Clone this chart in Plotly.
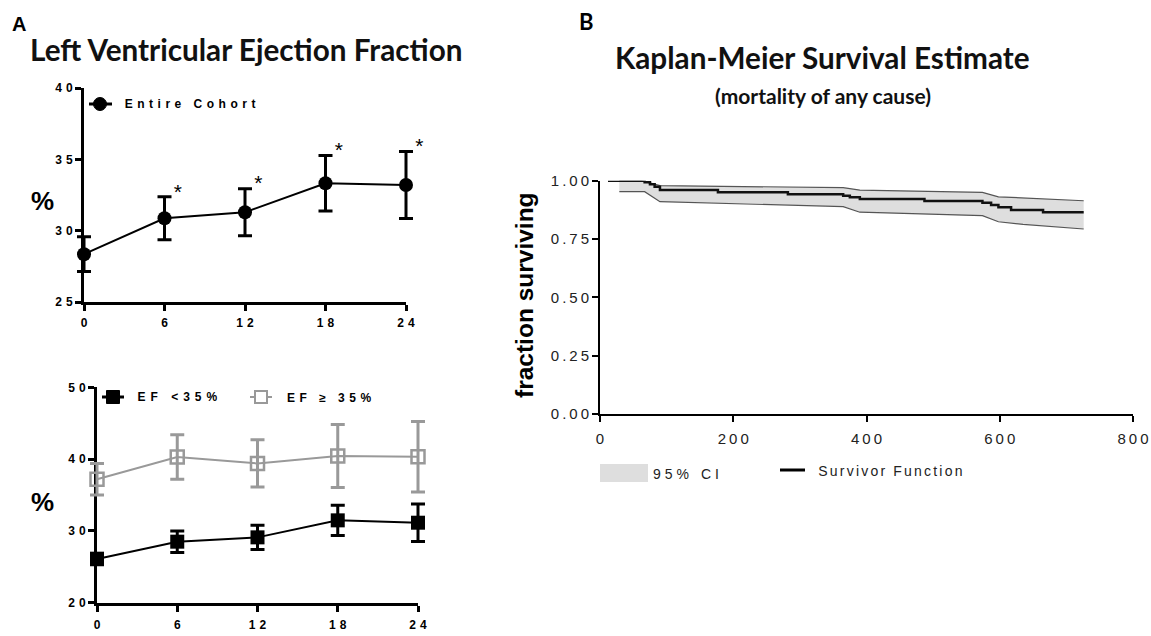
import json
import plotly.graph_objects as go

# ---------------- data ----------------
months = [0, 6, 12, 18, 24]
month_labels = ["0", "6", "12", "18", "24"]

cohort_mean = [28.35, 30.87, 31.29, 33.32, 33.20]
cohort_err = [1.22, 1.50, 1.65, 1.95, 2.35]
significant = [False, True, True, True, True]

low_ef_mean = [26.1, 28.5, 29.1, 31.47, 31.14]
low_ef_err = [0.8, 1.5, 1.7, 2.1, 2.6]

high_ef_mean = [37.2, 40.3, 39.4, 40.43, 40.33]
high_ef_err = [2.2, 3.1, 3.3, 4.4, 4.9]

top_yticks = [25, 30, 35, 40]
bottom_yticks = [20, 30, 40, 50]

km_days = [12, 67, 75, 82, 90, 177, 282, 365, 375, 390, 487, 574, 587, 598, 617, 665, 726]
km_surv = [1.0, 0.993, 0.985, 0.974, 0.960, 0.950, 0.942, 0.936, 0.929, 0.922, 0.913,
           0.906, 0.896, 0.886, 0.874, 0.865, 0.865]

ci_upper_days = [29, 62, 90, 255, 365, 390, 510, 574, 598, 726]
ci_upper = [1.0, 1.0, 0.979, 0.974, 0.970, 0.960, 0.953, 0.950, 0.931, 0.914]
ci_lower_days = [29, 67, 90, 255, 365, 390, 540, 574, 598, 635, 726]
ci_lower = [0.953, 0.953, 0.910, 0.899, 0.889, 0.865, 0.852, 0.850, 0.824, 0.813, 0.793]

km_xticks = [0, 200, 400, 600, 800]
km_yticks = [0, 0.25, 0.5, 0.75, 1.0]

# ---------------- helpers ----------------
# Figure fills the window exactly (body margin removed below); positions in window pixels.
W, H = 1151, 636
def px(x):
    return x / W
def py(y):
    return 1 - y / H

GRAY = "#999999"
ARIAL = "Liberation Sans, Arial, sans-serif"
LATO = "Lato, Open Sans, sans-serif"
TICKFONT_A = dict(family=ARIAL, size=12, color="black", weight="bold")
TICKFONT_B = dict(family=ARIAL, size=15, color="#222222")

# padded hidden axes for the panel-A traces, so error-bar caps at the ends are not clipped
PAD = 14
def padded(x0, x1, r0, r1):
    per = (x1 - x0) / (r1 - r0)
    d = PAD / per
    return [px(x0 - PAD), px(x1 + PAD)], [r0 - d, r1 + d]

top_dom, top_rng = padded(84, 406, 0, 24)
bot_dom, bot_rng = padded(97, 418, 0, 24)

fig = go.Figure()

# empty traces so that the visible panel-A axes get their own subplots
fig.add_trace(go.Scatter(x=[], y=[], xaxis="x", yaxis="y", hoverinfo="skip"))
fig.add_trace(go.Scatter(x=[], y=[], xaxis="x2", yaxis="y2", hoverinfo="skip"))

# ---------- Panel A top ----------
fig.add_trace(go.Scatter(
    x=months, y=cohort_mean, mode="lines+markers",
    line=dict(color="black", width=2),
    marker=dict(symbol="circle", size=14, color="black"),
    error_y=dict(type="data", array=cohort_err, color="black", thickness=3, width=7),
    cliponaxis=False, xaxis="x4", yaxis="y"))

ast_x = [m + 1.0 for m, s in zip(months, significant) if s]
ast_y = [v + e + 0.25 for v, e, s in zip(cohort_mean, cohort_err, significant) if s]
fig.add_trace(go.Scatter(
    x=ast_x, y=ast_y, mode="text", text=["*"] * len(ast_x),
    textposition="middle center",
    textfont=dict(family=ARIAL, size=21, color="black"),
    cliponaxis=False, xaxis="x4", yaxis="y"))

# ---------- Panel A bottom ----------
fig.add_trace(go.Scatter(
    x=months, y=high_ef_mean, mode="lines+markers",
    line=dict(color=GRAY, width=2),
    marker=dict(symbol="square-open", size=13, color=GRAY, line=dict(width=2.5, color=GRAY)),
    error_y=dict(type="data", array=high_ef_err, color=GRAY, thickness=3, width=7),
    cliponaxis=False, xaxis="x5", yaxis="y2"))
fig.add_trace(go.Scatter(
    x=months, y=low_ef_mean, mode="lines+markers",
    line=dict(color="black", width=2),
    marker=dict(symbol="square", size=14, color="black"),
    error_y=dict(type="data", array=low_ef_err, color="black", thickness=3, width=7),
    cliponaxis=False, xaxis="x5", yaxis="y2"))

# ---------- Panel B ----------
band_x = ci_upper_days + ci_lower_days[::-1]
band_y = ci_upper + ci_lower[::-1]
fig.add_trace(go.Scatter(
    x=band_x, y=band_y, fill="toself", fillcolor="#dedede", mode="none",
    cliponaxis=False, xaxis="x3", yaxis="y3"))
fig.add_trace(go.Scatter(
    x=ci_upper_days, y=ci_upper, mode="lines", line=dict(color="#555555", width=1.2),
    cliponaxis=False, xaxis="x3", yaxis="y3"))
fig.add_trace(go.Scatter(
    x=ci_lower_days, y=ci_lower, mode="lines", line=dict(color="#555555", width=1.2),
    cliponaxis=False, xaxis="x3", yaxis="y3"))
fig.add_trace(go.Scatter(
    x=km_days, y=km_surv, mode="lines", line=dict(color="#111111", width=2.5, shape="hv"),
    cliponaxis=False, xaxis="x3", yaxis="y3"))

axis_a = dict(showline=True, linewidth=3, linecolor="black", ticks="outside",
              ticklen=6, tickwidth=3, tickcolor="black", showgrid=False,
              zeroline=False, tickfont=TICKFONT_A, automargin=False)
axis_b = dict(showline=True, linewidth=2, linecolor="black", ticks="outside",
              ticklen=6, tickwidth=2, tickcolor="black", showgrid=False,
              zeroline=False, tickfont=TICKFONT_B, automargin=False)
hidden = dict(visible=False, showgrid=False, zeroline=False, fixedrange=True, automargin=False)

fig.update_layout(
    width=W, height=H, margin=dict(l=0, r=0, t=0, b=0, pad=0, autoexpand=False),
    paper_bgcolor="white", plot_bgcolor="rgba(0,0,0,0)", showlegend=False,
    xaxis=dict(axis_a, domain=[px(84), px(406)], range=[0, 24], anchor="y",
               tickvals=months, ticktext=month_labels, ticklabelstandoff=2),
    yaxis=dict(axis_a, domain=[py(302), py(88)], range=[25, 40], anchor="x",
               tickvals=top_yticks, ticktext=[str(v) for v in top_yticks]),
    xaxis2=dict(axis_a, domain=[px(97), px(418)], range=[0, 24], anchor="y2",
                tickvals=months, ticktext=month_labels, ticklabelstandoff=3),
    yaxis2=dict(axis_a, domain=[py(602.7), py(387.3)], range=[20, 50], anchor="x2",
                tickvals=bottom_yticks, ticktext=[str(v) for v in bottom_yticks]),
    xaxis3=dict(axis_b, domain=[px(600), px(1133)], range=[0, 800], anchor="y3",
                tickvals=km_xticks, ticktext=[str(v) for v in km_xticks], ticklabelstandoff=4),
    yaxis3=dict(axis_b, domain=[py(414), py(180.7)], range=[0, 1], anchor="x3",
                tickvals=km_yticks, ticktext=["%.2f" % v for v in km_yticks]),
    xaxis4=dict(hidden, domain=top_dom, range=top_rng, anchor="y"),
    xaxis5=dict(hidden, domain=bot_dom, range=bot_rng, anchor="y2"),
)

# ---------- text ----------
TITLE_FONT = dict(family=LATO, size=29.7, color="#111111", weight="bold")
annotations = []
spacing = []
def ann(text, x, y, xanchor="left", font=None, textangle=0, ls=0):
    shift = 0
    if ls and xanchor == "left":
        shift = ls * len(text) / 2.0
    annotations.append(dict(text=text, x=px(x), y=py(y), xref="paper", yref="paper",
                            xanchor=xanchor, yanchor="middle", showarrow=False,
                            textangle=textangle, font=font, xshift=shift))
    spacing.append(ls)

ann("A", 10, 24, font=dict(family=ARIAL, size=20, color="black", weight="bold"))
ann("Left Ventricular Ejection Fraction", 28, 50, font=TITLE_FONT)
ann("%", 42, 201, xanchor="center", font=dict(family=ARIAL, size=26, color="black", weight="bold"))
ann("%", 42, 502, xanchor="center", font=dict(family=ARIAL, size=26, color="black", weight="bold"))
ann("Entire Cohort", 123, 104, font=dict(family=ARIAL, size=12, color="black", weight="bold"), ls=4.5)
ann("EF <35%", 135, 397, font=dict(family=ARIAL, size=12, color="black", weight="bold"), ls=5)
ann("EF \u2265 35%", 285, 398, font=dict(family=ARIAL, size=12, color="black", weight="bold"), ls=4.5)

ann("B", 577, 22, font=dict(family=LATO, size=22, color="black", weight="bold"))
ann("Kaplan-Meier Survival Estimate", 822, 57, xanchor="center", font=TITLE_FONT)
ann("(mortality of any cause)", 823, 95, xanchor="center",
    font=dict(family=LATO, size=21, color="#111111", weight="bold"))
ann("fraction surviving", 525, 295, xanchor="center", textangle=-90,
    font=dict(family=ARIAL, size=24.5, color="black", weight="bold"))
ann("95% CI", 651, 474, font=dict(family=ARIAL, size=14, color="#222222"), ls=4)
ann("Survivor Function", 816, 471, font=dict(family=ARIAL, size=14, color="#222222"), ls=2.2)

fig.update_layout(annotations=annotations)

# ---------- legend glyphs ----------
def pline(x0, x1, y, color, width):
    return dict(type="line", xref="paper", yref="paper", x0=px(x0), x1=px(x1), y0=py(y), y1=py(y),
                line=dict(color=color, width=width))
def pbox(kind, x0, x1, y0, y1, fill, lcolor, lwidth):
    return dict(type=kind, xref="paper", yref="paper", x0=px(x0), x1=px(x1), y0=py(y1), y1=py(y0),
                fillcolor=fill, line=dict(color=lcolor, width=lwidth))

shapes = [
    pline(89, 112, 104, "black", 3),
    pbox("circle", 93.5, 106.5, 97.5, 110.5, "black", "black", 1),
    pline(102, 124, 397, "black", 3),
    pbox("rect", 106.5, 119.5, 390.5, 403.5, "black", "black", 1),
    pline(250, 272, 397, GRAY, 2),
    pbox("rect", 255, 267, 391, 403, "white", GRAY, 2),
    pbox("rect", 600, 648, 464, 482, "#dedede", "rgba(0,0,0,0)", 0),
    pline(780, 805, 470, "black", 3),
]
fig.update_layout(shapes=shapes)

post = """
document.documentElement.style.margin = '0';
document.documentElement.style.overflow = 'hidden';
document.body.style.margin = '0';
document.body.style.overflow = 'hidden';
var gd = document.getElementById('{plot_id}');
var sp = %s;
function spaceTicks(sel, ls, anchorEnd){
  gd.querySelectorAll(sel).forEach(function(t){
    t.setAttribute('letter-spacing', ls + 'px');
    t.setAttribute('dx', anchorEnd ? ls : ls / 2);
  });
}
gd.querySelectorAll('.annotation').forEach(function(a){
  var i = parseInt(a.getAttribute('data-index'));
  if (sp[i]) { var t = a.querySelector('text'); if (t) t.setAttribute('letter-spacing', sp[i] + 'px'); }
});
spaceTicks('.xtick text, .x2tick text', 4, false);
spaceTicks('.ytick text, .y2tick text', 4, true);
spaceTicks('.x3tick text', 3, false);
spaceTicks('.y3tick text', 3, true);
""" % json.dumps(spacing)

fig.write_html("out.html", post_script=post, config={"displayModeBar": False, "staticPlot": True})
